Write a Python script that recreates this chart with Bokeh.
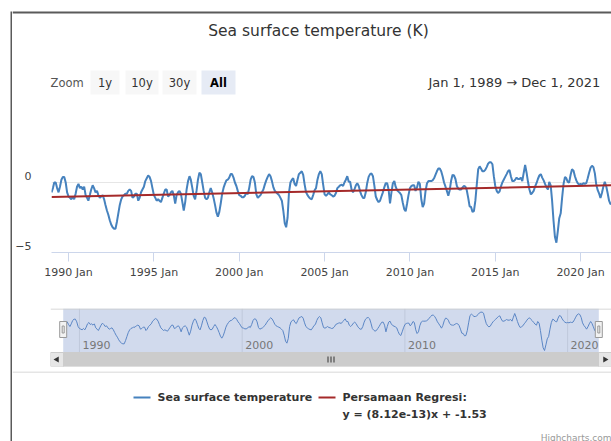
import pandas as pd
from bokeh.plotting import figure
from bokeh.models import (Range1d, LinearAxis, DatetimeAxis, FixedTicker,
                          DatetimeTickFormatter, ColumnDataSource, Grid)
from bokeh.layouts import row, column
from bokeh.embed import file_html
from bokeh.resources import INLINE
from bokeh.core.properties import value

# ---------------- data ----------------
TITLE = "Sea surface temperature (K)"
SERIES_NAME = "Sea surface temperature"
REG_NAME = "Persamaan Regresi:"
START_MONTH = "1989-01-01"
REG_SLOPE = 8.12e-13
REG_INTERCEPT = -1.53

sst = [
    -0.7, -0.4, 0.0, 0.0, -0.4, -0.7, -0.3, 0.2, 0.4, 0.4, 0.0, -0.7,        # 1989
    -1.0, -1.1, -1.2, -1.0, -1.2, -0.8, -0.3, -0.1, -0.4, -0.3, -0.5, -0.3,  # 1990
    -0.9, -1.1, -1.3, -0.9, -0.5, -0.2, -0.4, -0.7, -0.6, -0.9, -1.1, -1.0,  # 1991
    -0.9, -1.2, -1.6, -2.0, -2.3, -2.7, -3.0, -3.2, -3.3, -3.3, -2.8, -2.2,  # 1992
    -1.6, -1.2, -1.0, -0.9, -0.8, -0.8, -0.6, -0.5, -0.6, -1.1, -1.0, -0.8,  # 1993
    -0.8, -1.3, -1.1, -0.7, -0.5, -0.3, 0.1, 0.3, 0.5, 0.4, 0.1, -0.4,       # 1994
    -0.9, -1.1, -1.3, -1.2, -1.3, -1.4, -1.1, -0.8, -0.5, -0.5, -1.0, -0.9,  # 1995
    -0.7, -0.6, -0.9, -1.5, -0.9, -0.7, -0.6, -0.8, -1.4, -2.0, -1.4, -0.5,  # 1996
    0.1, 0.45, 0.2, -0.37, -0.96, -1.2, -0.6, 0.2, 0.7, 0.6, 0.0, -0.6,      # 1997
    -1.1, -1.2, -1.1, -0.7, -0.4, -0.7, -1.1, -1.6, -2.15, -2.45, -2.1, -1.5,  # 1998
    -0.8, -0.37, -0.1, 0.15, 0.2, 0.35, 0.6, 0.6, 0.35, 0.0, -0.25, -0.6,    # 1999
    -0.9, -0.95, -1.05, -1.05, -0.95, -0.7, -0.85, -0.4, 0.2, 0.45, 0.4, 0.0,  # 2000
    -0.85, -1.1, -1.0, -0.9, -0.7, -0.5, -0.15, 0.15, 0.4, 0.6, 0.45, 0.1,   # 2001
    -0.35, -0.6, -0.7, -0.8, -0.9, -1.1, -1.3, -2.0, -2.9, -3.2, -2.5, -0.7,  # 2002
    0.0, 0.2, 0.3, -0.1, -0.25, 0.2, 0.6, 0.7, 0.8, 0.55, -0.15, -0.7,       # 2003
    -0.9, -1.05, -1.15, -1.2, -0.9, -0.55, -0.4, 0.2, 0.6, 0.8, 0.6, -0.15,  # 2004
    -0.85, -0.95, -0.85, -0.7, -0.85, -0.9, -1.0, -0.95, -0.75, -0.4, -0.3, -0.2,  # 2005
    -0.15, -0.25, 0.0, 0.2, 0.45, 0.05, 0.05, -0.5, -0.7, -0.5, -0.2, -0.05,  # 2006
    -0.25, -0.65, -0.9, -1.1, -1.1, -0.7, -0.05, 0.4, 0.6, 0.65, 0.45, -0.2,  # 2007
    -1.0, -1.25, -1.4, -1.3, -1.0, -0.7, -0.35, -0.05, -0.05, -0.5, -1.5, -0.7,  # 2008
    -0.05, 0.1, -0.3, -0.55, -0.65, -0.75, -0.9, -1.45, -1.9, -2.05, -1.5, -0.9,  # 2009
    -0.4, -0.25, -0.2, -0.2, -0.6, -0.35, 0.05, -0.1, -1.2, -1.75, -1.5, -0.6,  # 2010
    -0.05, 0.1, 0.1, 0.1, 0.15, 0.3, 0.55, 0.8, 1.0, 1.0, 0.8, 0.45,         # 2011
    0.0, -0.3, -0.6, -0.95, -0.55, 0.15, 0.55, 0.5, 0.25, -0.25, -0.45, -0.5,  # 2012
    -0.5, -0.35, -0.25, -0.3, -0.55, -1.1, -1.7, -1.75, -2.1, -2.05, -1.3, -0.15,  # 2013
    0.95, 1.15, 1.0, 0.8, 0.8, 0.9, 1.1, 1.35, 1.45, 1.45, 1.3, 0.45,        # 2014
    -0.25, -0.6, -0.75, -0.65, -0.3, 0.0, 0.2, 0.4, 0.6, 0.8, 0.9, 0.45,     # 2015
    0.1, 0.1, 0.2, 0.35, 0.25, 0.25, 0.35, 0.1, 0.7, 1.25, 0.7, 0.05,        # 2016
    -0.5, -0.85, -0.75, -0.6, -0.3, -0.05, 0.25, 0.5, 0.6, 0.35, 0.15, -0.1,  # 2017
    -0.35, -0.5, 0.05, -0.2, -1.3, -2.75, -3.9, -4.3, -3.45, -2.55, -2.2, -1.1,  # 2018
    -0.1, 0.4, 0.3, 0.05, 0.0, 0.55, 0.95, 0.85, 0.45, 0.15, -0.05, -0.15,   # 2019
    -0.1, -0.15, -0.05, -0.1, -0.05, 0.3, 0.7, 1.05, 1.2, 1.1, 0.65, -0.15,  # 2020
    -0.55, -0.8, -1.1, -0.75, -0.3, 0.05, -0.25, -0.75, -1.3, -1.55, -1.45, -1.1,  # 2021
]

y_grid_ticks = [-5, 0, 5]
y_label_ticks = [-5, 0]
x_tick_years = [1990, 1995, 2000, 2005, 2010, 2015, 2020]
nav_tick_years = [1990, 2000, 2010, 2020]
zoom_buttons = ["1y", "10y", "30y", "All"]
selected_button = "All"

# ---------------- derived ----------------
dates = pd.date_range(START_MONTH, periods=len(sst), freq="MS")
def ms(ts):
    return pd.Timestamp(ts).value / 1e6
t0, t1 = ms(dates[0]), ms(dates[-1])
reg_x = [dates[0], dates[-1]]
reg_y = [REG_SLOPE * t0 + REG_INTERCEPT, REG_SLOPE * t1 + REG_INTERCEPT]
src = ColumnDataSource(dict(x=dates, y=sst))

FONT = value("DejaVu Sans")
BLUE = "#4682be"
RED = "#a52a2a"
W = 599

def base(width, height, **kw):
    p = figure(width=width, height=height, output_backend="svg", toolbar_location=None,
               x_axis_type=None, y_axis_type=None, **kw)
    p.outline_line_color = None
    p.background_fill_color = "white"
    p.border_fill_color = "white"
    p.frame_align = False
    return p

# ---------------- left frame strip ----------------
strip = base(12, 441, x_range=Range1d(0, 12), y_range=Range1d(441, 0), min_border=0)
strip.quad(left=[10], right=[12], top=[11], bottom=[441], fill_color="#5a5a5a", line_color=None)

# ---------------- header ----------------
header = base(W, 100, x_range=Range1d(0, W), y_range=Range1d(100, 0), min_border=0)
header.segment(x0=[0], y0=[12], x1=[W], y1=[12], line_color="#5a5a5a", line_width=2)
header.text(x=[306], y=[30], text=[TITLE], text_align="center", text_baseline="middle",
            text_font=FONT, text_font_size="15.5px", text_color="#333333")
header.text(x=[38], y=[82], text=["Zoom"], text_align="left", text_baseline="middle",
            text_font=FONT, text_font_size="11.5px", text_color="#555555")
btn_left = [78, 113, 150, 189]
btn_right = [107, 146, 184, 223]
btn_fill = ["#e6ebf5" if b == selected_button else "#f7f7f7" for b in zoom_buttons]
header.quad(left=btn_left, right=btn_right, top=[70] * 4, bottom=[94] * 4,
            fill_color=btn_fill, line_color=None)
for b, l, r in zip(zoom_buttons, btn_left, btn_right):
    sel = b == selected_button
    header.text(x=[(l + r) / 2], y=[82], text=[b], text_align="center", text_baseline="middle",
                text_font=FONT, text_font_size="11.5px",
                text_font_style="bold" if sel else "normal",
                text_color="#000000" if sel else "#333333")
d0, d1 = dates[0], dates[-1]
range_txt = f"{d0:%b} {d0.day}, {d0.year}  \u2192  {d1:%b} {d1.day}, {d1.year}"
header.text(x=[596], y=[82], text=[range_txt], text_align="right", text_baseline="middle",
            text_font=FONT, text_font_size="13px", text_color="#333333")

# ---------------- main chart ----------------
main_end = ms("2021-10-23")
main = base(W, 185, x_range=Range1d(t0, main_end), y_range=Range1d(-5, 5),
            min_border_left=38, min_border_right=0, min_border_top=12, min_border_bottom=33)
# labels sit just above their grid lines, as in the original
main.extra_y_ranges = {"labels": Range1d(-5.5, 4.5)}
yaxis = LinearAxis(ticker=FixedTicker(ticks=y_label_ticks), y_range_name="labels")
yaxis.axis_line_color = None
yaxis.major_tick_line_color = None
yaxis.minor_tick_line_color = None
yaxis.major_label_standoff = 14
yaxis.major_label_text_font = "DejaVu Sans"
yaxis.major_label_text_font_size = "11px"
yaxis.major_label_text_color = "#444444"
main.add_layout(yaxis, "left")
main.add_layout(Grid(dimension=1, ticker=FixedTicker(ticks=y_grid_ticks),
                     grid_line_color="#e6e6e6"))
fmt = "%Y %b"
xaxis = DatetimeAxis(ticker=FixedTicker(ticks=[ms(f"{y}-01-01") for y in x_tick_years]),
                     formatter=DatetimeTickFormatter(years=fmt, months=fmt, days=fmt,
                                                     hours=fmt, minutes=fmt, seconds=fmt,
                                                     milliseconds=fmt, microseconds=fmt,
                                                     hourmin=fmt, minsec=fmt))
xaxis.axis_line_color = "#ccd6eb"
xaxis.major_tick_line_color = "#ccd6eb"
xaxis.minor_tick_line_color = None
xaxis.major_tick_out = 9
xaxis.major_tick_in = 0
xaxis.major_label_standoff = 4
xaxis.major_label_text_font = "DejaVu Sans"
xaxis.major_label_text_font_size = "11px"
xaxis.major_label_text_color = "#444444"
main.add_layout(xaxis, "below")
main.line("x", "y", source=src, line_color=BLUE, line_width=2)
main.line(reg_x, reg_y, line_color=RED, line_width=2)

# ---------------- navigator ----------------
pad = (t1 - t0) * 12.7 / 535.6
nav_lo = min(sst) - 0.3 - 2.1
nav_hi = max(sst) + 0.55
nav = base(W, 86, x_range=Range1d(t0 - pad, t1 + pad), y_range=Range1d(nav_lo, nav_hi),
           min_border_left=38, min_border_right=0, min_border_top=23, min_border_bottom=5)
nav.extra_x_ranges = {"px": Range1d(0, 561)}
nav.extra_y_ranges = {"px": Range1d(58, 0)}
nav_ticks = [ms(f"{y}-01-01") for y in nav_tick_years]
nav.segment(x0=nav_ticks, y0=[0] * 4, x1=nav_ticks, y1=[44] * 4, y_range_name="px",
            line_color="#e6e6e6", line_width=1)
nav.quad(left=[t0], right=[t1], top=[0], bottom=[44], y_range_name="px",
         fill_color="#6685c2", fill_alpha=0.3, line_color=None)
nav.line("x", "y", source=src, line_color="#5b86c5", line_width=1)
nav.text(x=nav_ticks, y=[36] * 4, text=[str(y) for y in nav_tick_years], y_range_name="px",
         x_offset=3, text_align="left", text_baseline="middle",
         text_font=FONT, text_font_size="11px", text_color="#777777")
nav.segment(x0=[0], y0=[0.5], x1=[561], y1=[0.5], x_range_name="px", y_range_name="px",
            line_color="#cccccc", line_width=1)
# scrollbar
nav.quad(left=[0], right=[561], top=[44], bottom=[58], x_range_name="px", y_range_name="px",
         fill_color="#f2f2f2", line_color=None)
nav.quad(left=[t0], right=[t1], top=[44], bottom=[58], y_range_name="px",
         fill_color="#cccccc", line_color="#cccccc")
nav.quad(left=[0, 548], right=[13, 561], top=[44, 44], bottom=[58, 58],
         x_range_name="px", y_range_name="px", fill_color="#e6e6e6", line_color="#cccccc")
nav.scatter(x=[6.5, 554.5], y=[51, 51], x_range_name="px", y_range_name="px",
            marker="triangle", angle=[1.5708, -1.5708], size=6,
            fill_color="#333333", line_color=None)
gx = [277.5, 280.5, 283.5]
nav.segment(x0=gx, y0=[48] * 3, x1=gx, y1=[54] * 3, x_range_name="px", y_range_name="px",
            line_color="#333333", line_width=1)
# handles
nav.rect(x=[t0, t1], y=[21, 21], width=7, height=16, width_units="screen",
         height_units="screen", y_range_name="px", fill_color="#f2f2f2", line_color="#999999")
nav.rect(x=[t0, t1], y=[21, 21], width=2, height=7, width_units="screen",
         height_units="screen", y_range_name="px", fill_color=None, line_color="#999999")

# ---------------- legend ----------------
leg = base(W, 70, x_range=Range1d(0, W), y_range=Range1d(70, 0), min_border=0)
leg.segment(x0=[0], y0=[0.5], x1=[W], y1=[0.5], line_color="#cccccc", line_width=1)
leg.segment(x0=[121], y0=[26], x1=[138], y1=[26], line_color=BLUE, line_width=2)
leg.text(x=[145], y=[26], text=[SERIES_NAME], text_baseline="middle", text_align="left",
         text_font=FONT, text_font_size="11px", text_font_style="bold", text_color="#333333")
leg.segment(x0=[306], y0=[26], x1=[323], y1=[26], line_color=RED, line_width=2)
eq = f"y = ({REG_SLOPE:.2e})x + {REG_INTERCEPT}"
leg.text(x=[330, 330], y=[26, 43], text=[REG_NAME, eq], text_baseline="middle", text_align="left",
         text_font=FONT, text_font_size="11px", text_font_style="bold", text_color="#333333")
leg.text(x=[599], y=[66], text=["Highcharts.com"], text_baseline="middle", text_align="right",
         text_font=FONT, text_font_size="9px", text_color="#999999")

layout = row(strip, column(header, main, nav, leg))
open("out.html", "w").write(file_html(layout, INLINE))
